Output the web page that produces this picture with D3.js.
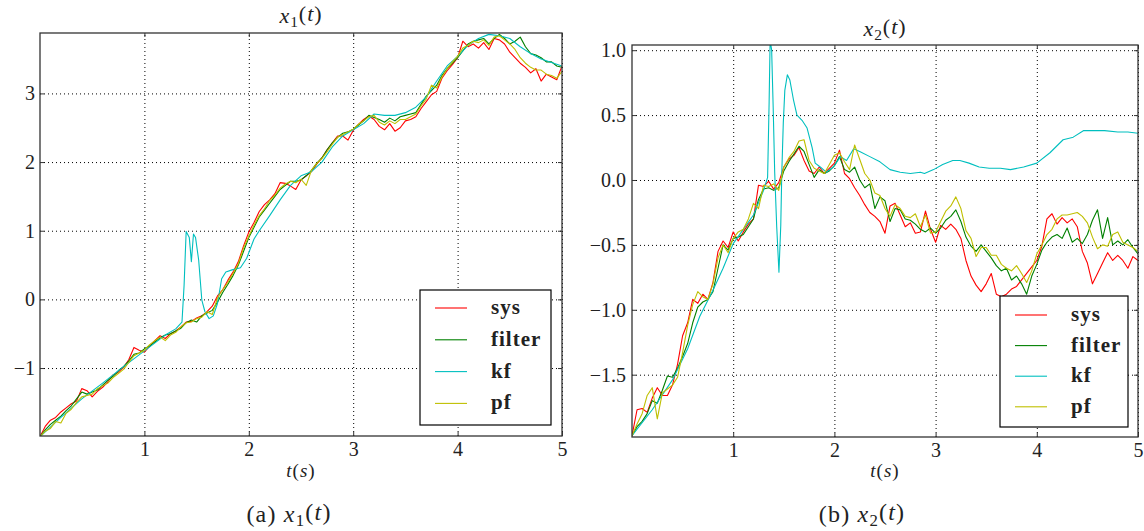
<!DOCTYPE html>
<html>
<head>
<meta charset="utf-8">
<script src="https://cdn.jsdelivr.net/npm/d3@7"></script>
<style>
  body { margin: 0; background: #fff; }
</style>
</head>
<body>
<svg id="chart" width="1144" height="531"></svg>
<script>
// Sample times (s) shared by sys / filter / pf
const time = [0.00,0.05,0.10,0.15,0.20,0.25,0.30,0.35,0.40,0.45,0.50,0.55,0.60,0.65,0.70,0.75,0.80,0.85,0.90,0.95,
  1.00,1.05,1.10,1.15,1.20,1.25,1.30,1.35,1.40,1.45,1.50,1.55,1.60,1.65,1.70,1.75,1.80,1.85,1.90,1.95,
  2.00,2.05,2.10,2.15,2.20,2.25,2.30,2.35,2.40,2.45,2.50,2.55,2.60,2.65,2.70,2.75,2.80,2.85,2.90,2.95,
  3.00,3.05,3.10,3.15,3.20,3.25,3.30,3.35,3.40,3.45,3.50,3.55,3.60,3.65,3.70,3.75,3.80,3.85,3.90,3.95,
  4.00,4.05,4.10,4.15,4.20,4.25,4.30,4.35,4.40,4.45,4.50,4.55,4.60,4.65,4.70,4.75,4.80,4.85,4.90,4.95,5.00];

const seriesNames = ['sys', 'filter', 'kf', 'pf'];
const seriesColors = ['#ff0000', '#008000', '#00bfbf', '#bfbf00'];

// ---- x1(t) ----
const x1Sys = [-2.00,-1.85,-1.76,-1.72,-1.64,-1.58,-1.52,-1.48,-1.30,-1.33,-1.42,-1.34,-1.28,-1.20,-1.10,-1.06,-0.99,-0.88,-0.70,-0.74,
  -0.77,-0.68,-0.60,-0.53,-0.57,-0.50,-0.46,-0.40,-0.33,-0.32,-0.27,-0.24,-0.18,-0.10,0.05,0.14,0.28,0.40,0.55,0.78,
  0.98,1.12,1.28,1.38,1.45,1.54,1.70,1.69,1.65,1.60,1.74,1.80,1.86,1.97,2.06,2.18,2.28,2.38,2.38,2.32,
  2.46,2.55,2.62,2.67,2.62,2.52,2.47,2.56,2.45,2.50,2.60,2.62,2.66,2.78,2.88,2.98,3.03,3.22,3.33,3.42,
  3.52,3.76,3.68,3.72,3.66,3.74,3.64,3.80,3.78,3.72,3.60,3.52,3.44,3.38,3.30,3.36,3.18,3.28,3.24,3.20,3.40];
const x1Filter = [-2.00,-1.90,-1.82,-1.76,-1.70,-1.62,-1.55,-1.45,-1.35,-1.38,-1.35,-1.32,-1.25,-1.18,-1.12,-1.04,-0.98,-0.90,-0.80,-0.78,
  -0.72,-0.68,-0.62,-0.56,-0.52,-0.50,-0.46,-0.42,-0.34,-0.30,-0.33,-0.24,-0.20,-0.16,-0.04,0.10,0.22,0.35,0.50,0.70,
  0.90,1.05,1.20,1.30,1.40,1.50,1.60,1.66,1.72,1.72,1.74,1.80,1.88,1.98,2.06,2.18,2.28,2.36,2.42,2.44,
  2.48,2.54,2.60,2.68,2.65,2.62,2.58,2.64,2.60,2.66,2.68,2.70,2.72,2.84,2.96,3.04,3.12,3.26,3.36,3.44,
  3.52,3.62,3.72,3.76,3.78,3.80,3.72,3.80,3.86,3.80,3.72,3.76,3.82,3.68,3.58,3.56,3.52,3.46,3.46,3.40,3.38];
const x1Pf = [-2.00,-1.92,-1.88,-1.78,-1.80,-1.66,-1.60,-1.50,-1.42,-1.40,-1.38,-1.30,-1.26,-1.22,-1.14,-1.08,-1.02,-0.92,-0.82,-0.78,
  -0.74,-0.66,-0.60,-0.55,-0.60,-0.52,-0.48,-0.40,-0.34,-0.33,-0.28,-0.26,-0.18,-0.22,0.02,0.14,0.25,0.38,0.52,0.75,
  0.92,1.08,1.22,1.32,1.44,1.52,1.62,1.68,1.72,1.70,1.75,1.66,1.88,1.98,2.05,2.15,2.26,2.36,2.40,2.44,
  2.48,2.55,2.60,2.66,2.68,2.58,2.54,2.60,2.56,2.62,2.62,2.66,2.70,2.82,2.92,3.12,3.08,3.24,3.36,3.46,
  3.54,3.66,3.70,3.76,3.74,3.78,3.70,3.82,3.84,3.78,3.72,3.64,3.52,3.44,3.38,3.34,3.34,3.28,3.26,3.22,3.32];
// kf has its own time stamps (sharp transient around 1.4 s)
const x1KfTime = [0,0.2,0.4,0.6,0.8,1.0,1.2,1.3,1.36,1.38,1.40,1.43,1.45,1.47,1.49,1.52,1.55,1.58,1.62,1.66,1.70,1.74,1.78,1.84,1.92,1.98,2.05,2.1,
  2.2,2.3,2.4,2.5,2.6,2.7,2.8,2.9,3.0,3.1,3.2,3.3,3.4,3.5,3.6,3.7,3.8,3.9,4.0,4.1,4.2,4.3,4.4,4.5,4.6,4.7,4.8,4.9,5.0];
const x1Kf = [-2.0,-1.72,-1.45,-1.22,-0.98,-0.75,-0.52,-0.43,-0.33,0.2,0.99,0.90,0.55,0.95,0.90,0.57,-0.01,-0.18,-0.28,-0.24,-0.06,0.30,0.40,0.43,0.46,0.60,0.88,1.0,
  1.22,1.45,1.66,1.80,1.86,2.0,2.22,2.38,2.47,2.56,2.70,2.68,2.68,2.72,2.80,2.95,3.18,3.40,3.54,3.70,3.80,3.86,3.84,3.80,3.68,3.58,3.50,3.45,3.40];

// ---- x2(t) ----
const x2Sys = [-1.97,-1.77,-1.76,-1.79,-1.68,-1.60,-1.66,-1.66,-1.58,-1.42,-1.20,-1.10,-0.92,-0.95,-0.88,-0.92,-0.79,-0.55,-0.47,-0.52,
  -0.40,-0.47,-0.40,-0.34,-0.30,-0.04,-0.05,-0.01,-0.07,-0.02,0.10,0.16,0.19,0.25,0.15,0.07,0.05,0.10,0.05,0.09,
  0.13,0.23,0.05,0.01,-0.06,-0.12,-0.19,-0.25,-0.28,-0.32,-0.41,-0.20,-0.18,-0.27,-0.36,-0.33,-0.41,-0.40,-0.24,-0.38,
  -0.48,-0.35,-0.38,-0.34,-0.38,-0.45,-0.62,-0.74,-0.81,-0.86,-0.80,-0.72,-0.88,-0.90,-0.88,-0.84,-0.82,-0.77,-0.72,-0.67,
  -0.62,-0.51,-0.30,-0.26,-0.34,-0.29,-0.33,-0.30,-0.36,-0.55,-0.64,-0.80,-0.72,-0.64,-0.56,-0.62,-0.58,-0.62,-0.68,-0.59,-0.62];
const x2Filter = [-1.97,-1.90,-1.86,-1.80,-1.70,-1.72,-1.62,-1.51,-1.52,-1.45,-1.36,-1.26,-1.10,-0.98,-0.94,-0.92,-0.86,-0.68,-0.50,-0.54,
  -0.45,-0.44,-0.42,-0.36,-0.30,-0.15,-0.07,-0.06,-0.08,-0.06,0.07,0.14,0.20,0.26,0.22,0.12,0.02,0.08,0.05,0.07,
  0.11,0.18,0.08,0.06,0.10,0.00,-0.06,-0.03,-0.22,-0.13,-0.16,-0.32,-0.22,-0.23,-0.30,-0.31,-0.34,-0.38,-0.40,-0.37,
  -0.41,-0.37,-0.31,-0.28,-0.23,-0.32,-0.44,-0.51,-0.55,-0.50,-0.55,-0.60,-0.66,-0.70,-0.68,-0.77,-0.74,-0.80,-0.88,-0.74,
  -0.65,-0.54,-0.48,-0.44,-0.42,-0.45,-0.37,-0.48,-0.45,-0.49,-0.42,-0.31,-0.23,-0.45,-0.29,-0.50,-0.47,-0.50,-0.46,-0.52,-0.57];
const x2Pf = [-1.97,-1.88,-1.80,-1.66,-1.60,-1.84,-1.64,-1.61,-1.58,-1.52,-1.33,-1.12,-0.96,-0.86,-0.90,-0.92,-0.80,-0.60,-0.50,-0.56,
  -0.45,-0.40,-0.38,-0.30,-0.18,-0.22,-0.04,-0.05,-0.03,-0.08,0.10,0.17,0.22,0.30,0.31,0.15,0.09,0.07,0.05,0.12,
  0.19,0.21,0.14,0.08,0.27,0.16,0.05,0.00,-0.10,-0.12,-0.22,-0.28,-0.19,-0.22,-0.28,-0.29,-0.26,-0.36,-0.27,-0.41,
  -0.40,-0.32,-0.24,-0.20,-0.13,-0.22,-0.39,-0.45,-0.59,-0.52,-0.52,-0.58,-0.58,-0.65,-0.68,-0.70,-0.66,-0.72,-0.79,-0.70,
  -0.57,-0.50,-0.42,-0.38,-0.30,-0.27,-0.27,-0.26,-0.25,-0.28,-0.33,-0.44,-0.53,-0.50,-0.51,-0.42,-0.40,-0.48,-0.50,-0.52,-0.55];
const x2KfTime = [0,0.2,0.4,0.55,0.67,0.8,0.9,1.0,1.1,1.2,1.3,1.34,1.355,1.365,1.38,1.395,1.41,1.43,1.452,1.47,1.48,1.495,1.51,1.535,1.56,1.595,1.63,1.68,
  1.73,1.78,1.81,1.86,1.92,1.99,2.06,2.12,2.19,2.25,2.35,2.45,2.55,2.65,2.75,2.85,2.89,2.98,3.07,3.17,3.24,3.33,3.43,3.53,3.64,3.74,3.87,
  4.0,4.13,4.26,4.36,4.46,4.56,4.67,4.8,4.9,5.0];
const x2Kf = [-1.97,-1.77,-1.54,-1.30,-1.05,-0.85,-0.68,-0.49,-0.38,-0.27,-0.08,0.02,0.6,1.08,1.0,0.56,0.06,-0.36,-0.71,-0.35,0.05,0.44,0.69,0.81,0.77,0.62,0.50,0.46,
  0.40,0.25,0.13,0.10,0.06,0.10,0.18,0.15,0.24,0.22,0.18,0.14,0.08,0.06,0.05,0.06,0.05,0.08,0.12,0.15,0.15,0.13,0.10,0.09,0.09,0.08,0.10,
  0.13,0.21,0.31,0.33,0.38,0.38,0.38,0.37,0.37,0.36];

// Tick values
const xTicks = [1, 2, 3, 4, 5];
const x1YTicks = [-1, 0, 1, 2, 3];
const x2YTicks = [-1.5, -1.0, -0.5, 0.0, 0.5, 1.0];

const FONT = '"Liberation Serif"';
const svg = d3.select('#chart');

// serif text helper (font set on each element, quoted family name)
function serif(sel, size) {
  return sel.style('font-family', FONT).style('font-size', size + 'px').style('fill', '#222');
}

// Draws one subplot: grid, curves, frame, ticks, labels and legend
function drawPanel(p) {
  const x = d3.scaleLinear().domain([0, 5]).range([p.left, p.right]);
  const y = d3.scaleLinear().domain(p.yDomain).range([p.bottom, p.top]);
  const w = p.right - p.left, h = p.bottom - p.top;
  const g = svg.append('g');

  // dotted grid
  g.append('g')
    .attr('transform', `translate(0,${p.bottom})`)
    .call(d3.axisBottom(x).tickValues(xTicks).tickSize(-h).tickFormat(''))
    .call(a => a.select('.domain').remove())
    .selectAll('line').attr('stroke', '#000').attr('stroke-dasharray', '1,3');
  g.append('g')
    .attr('transform', `translate(${p.left},0)`)
    .call(d3.axisLeft(y).tickValues(p.yTicks).tickSize(-w).tickFormat(''))
    .call(a => a.select('.domain').remove())
    .selectAll('line').attr('stroke', '#000').attr('stroke-dasharray', '1,3');

  // clip to the axes box
  svg.append('clipPath').attr('id', p.id + '-clip')
    .append('rect').attr('x', p.left).attr('y', p.top).attr('width', w).attr('height', h);

  const line = d3.line().x(d => x(d[0])).y(d => y(d[1]));
  const plot = g.append('g').attr('clip-path', `url(#${p.id}-clip)`);
  p.series.forEach((s, i) => {
    plot.append('path')
      .datum(s.t.map((tt, k) => [tt, s.v[k]]))
      .attr('fill', 'none')
      .attr('stroke', seriesColors[i])
      .attr('stroke-width', 1.1)
      .attr('stroke-linejoin', 'round')
      .attr('d', line);
  });

  // frame
  g.append('rect')
    .attr('x', p.left).attr('y', p.top).attr('width', w).attr('height', h)
    .attr('fill', 'none').attr('stroke', '#333').attr('stroke-width', 1.3);

  // inward ticks on all four sides, labels only on bottom / left
  const bottomAxis = g.append('g')
    .attr('transform', `translate(0,${p.bottom})`)
    .call(d3.axisBottom(x).tickValues(xTicks).tickSizeInner(-4).tickSizeOuter(0).tickPadding(6).tickFormat(d3.format('d')));
  const leftAxis = g.append('g')
    .attr('transform', `translate(${p.left},0)`)
    .call(d3.axisLeft(y).tickValues(p.yTicks).tickSizeInner(-4).tickSizeOuter(0).tickPadding(p.yPad).tickFormat(d3.format(p.yFormat)));
  g.append('g')
    .attr('transform', `translate(0,${p.top})`)
    .call(d3.axisTop(x).tickValues(xTicks).tickSizeInner(-4).tickSizeOuter(0).tickFormat(''));
  g.append('g')
    .attr('transform', `translate(${p.right},0)`)
    .call(d3.axisRight(y).tickValues(p.yTicks).tickSizeInner(-4).tickSizeOuter(0).tickFormat(''));
  g.selectAll('.domain').remove();
  // drop the axis-level sans-serif default
  g.selectAll('g').attr('font-family', null);
  g.selectAll('.tick line').filter(function() { return !this.getAttribute('stroke-dasharray'); })
    .attr('stroke', '#333');
  [bottomAxis, leftAxis].forEach(a => serif(a.selectAll('text'), 20));

  // title  x_n(t)
  const title = serif(g.append('text'), 22).attr('x', (p.left + p.right) / 2).attr('y', p.titleY)
    .attr('text-anchor', 'middle').style('letter-spacing', '1px');
  mathLabel(title, p.sub);

  // axis label t(s)
  const xl = serif(g.append('text'), 19).attr('x', (p.left + p.right) / 2).attr('y', 477)
    .attr('text-anchor', 'middle').style('letter-spacing', '1px');
  xl.append('tspan').style('font-style', 'italic').text('t');
  xl.append('tspan').text('(');
  xl.append('tspan').style('font-style', 'italic').text('s');
  xl.append('tspan').text(')');

  // caption (a) x_1(t)
  const cap = serif(g.append('text'), 24).attr('x', p.capX).attr('y', 522)
    .attr('text-anchor', 'middle').style('letter-spacing', '1.2px');
  cap.append('tspan').text(p.capTag + ' ');
  mathLabel(cap, p.sub);

  // legend
  const lg = g.append('g').attr('transform', `translate(${p.legend[0]},${p.legend[1]})`);
  lg.append('rect').attr('width', p.legend[2]).attr('height', p.legend[3])
    .attr('fill', '#fff').attr('stroke', '#000').attr('stroke-width', 1.2);
  seriesNames.forEach((name, i) => {
    const cy = p.legendRow0 + i * p.legendStep;
    lg.append('line').attr('x1', 15).attr('x2', 47).attr('y1', cy).attr('y2', cy)
      .attr('stroke', seriesColors[i]).attr('stroke-width', 1.1);
    serif(lg.append('text'), 21).attr('x', 71).attr('y', cy + 6)
      .style('font-weight', 'bold').style('letter-spacing', '1px')
      .text(name);
  });
}

// writes  x_n(t) with italic x / t and subscript n
function mathLabel(txt, sub) {
  txt.append('tspan').style('font-style', 'italic').text('x');
  txt.append('tspan').attr('dy', '0.25em').style('font-size', '70%').text(sub);
  txt.append('tspan').attr('dy', '-0.25em').text('(');
  txt.append('tspan').style('font-style', 'italic').text('t');
  txt.append('tspan').text(')');
}

drawPanel({
  id: 'p1', left: 40, right: 562, top: 33, bottom: 436,
  yDomain: [-1.99, 3.88], yTicks: x1YTicks, yFormat: 'd', yPad: 5,
  titleY: 23, sub: '1', capX: 289, capTag: '(a)',
  legend: [420, 290, 131, 135], legendRow0: 18, legendStep: 31.8,
  series: [
    { t: time, v: x1Sys },
    { t: time, v: x1Filter },
    { t: x1KfTime, v: x1Kf },
    { t: time, v: x1Pf }
  ]
});

drawPanel({
  id: 'p2', left: 632, right: 1138, top: 45, bottom: 437,
  yDomain: [-1.98, 1.04], yTicks: x2YTicks, yFormat: '.1f', yPad: 6,
  titleY: 36, sub: '2', capX: 862, capTag: '(b)',
  legend: [1000, 296, 128, 131], legendRow0: 19, legendStep: 30.6,
  series: [
    { t: time, v: x2Sys },
    { t: time, v: x2Filter },
    { t: x2KfTime, v: x2Kf },
    { t: time, v: x2Pf }
  ]
});
</script>
</body>
</html>
